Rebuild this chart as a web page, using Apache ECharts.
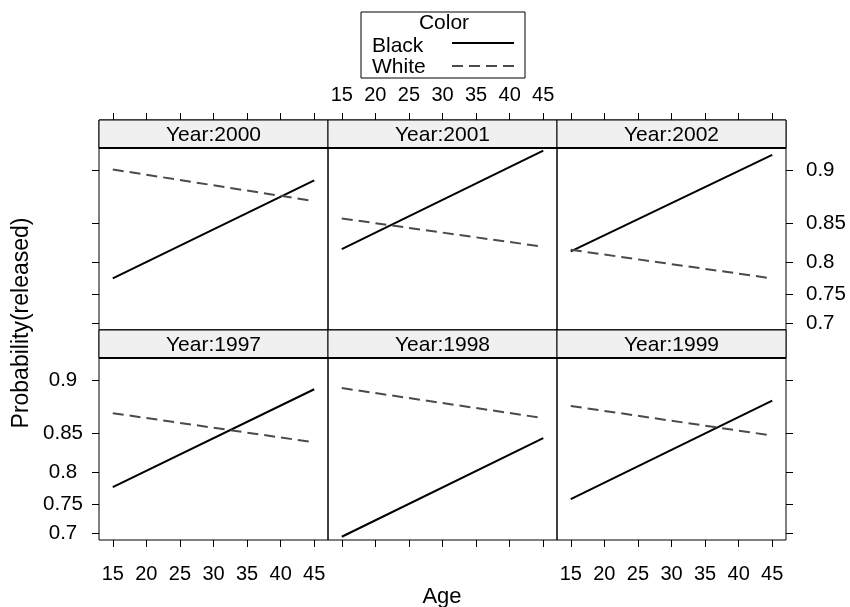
<!DOCTYPE html>
<html>
<head>
<meta charset="utf-8">
<script src="https://cdn.jsdelivr.net/npm/echarts@6/dist/echarts.min.js"></script>
<style>html,body{margin:0;padding:0;background:#fff;}#chart{width:850px;height:607px;}</style>
</head>
<body>
<div id="chart"></div>
<script>
// ---- data (probabilities, at ages 15 and 45) ----
const ages = [15, 45];
const xTicks = [15, 20, 25, 30, 35, 40, 45];
const yTicks = [0.7, 0.75, 0.8, 0.85, 0.9];
const panelYears = [2000, 2001, 2002, 1997, 1998, 1999];
const black2000 = [0.776, 0.892];
const white2000 = [0.901, 0.873];
const black2001 = [0.818, 0.915];
const white2001 = [0.855, 0.821];
const black2002 = [0.815, 0.912];
const white2002 = [0.817, 0.776];
const black1997 = [0.778, 0.893];
const white1997 = [0.871, 0.839];
const black1998 = [0.693, 0.844];
const white1998 = [0.894, 0.866];
const black1999 = [0.759, 0.883];
const white1999 = [0.878, 0.847];
const seriesNames = ['Black', 'White'];

const blackByYear = {2000: black2000, 2001: black2001, 2002: black2002, 1997: black1997, 1998: black1998, 1999: black1999};
const whiteByYear = {2000: white2000, 2001: white2001, 2002: white2002, 1997: white1997, 1998: white1998, 1999: white1999};

// ---- logit scale helpers ----
const logit = p => Math.log(p / (1 - p));
const FONT = '"Liberation Sans", Arial, Helvetica, sans-serif';

// ---- layout ----
const PANEL_LEFT = [99, 328, 557];
const PANEL_W = 229;
const ROW_TOP = [120, 330];
const PANEL_H = 210;   // strip + plot
const STRIP_H = 28;
const PX_PER_LOGIT = 112.8;
const Y_MIN = 0.7852;                       // logit at plot bottom
const Y_MAX = Y_MIN + PANEL_H / PX_PER_LOGIT; // includes strip area
const X_MIN = 12.95, X_MAX = 47.05;

const grids = [], xAxes = [], yAxes = [], series = [], graphics = [];
const yTickVals = yTicks.map(logit);
const fmtY = v => {
  let best = yTicks[0];
  yTicks.forEach(t => { if (Math.abs(logit(t) - v) < Math.abs(logit(best) - v)) best = t; });
  return String(best);
};

panelYears.forEach((year, i) => {
  const r = Math.floor(i / 3), c = i % 3;
  const left = PANEL_LEFT[c], top = ROW_TOP[r];
  grids.push({left: left, top: top, width: PANEL_W, height: PANEL_H, show: true,
    borderColor: '#000', borderWidth: 1, backgroundColor: 'transparent', containLabel: false, outerBoundsMode: 'none'});
  const showXLabel = (r === 0 && c === 1) || (r === 1 && c !== 1);
  xAxes.push({type: 'value', gridIndex: i, min: X_MIN, max: X_MAX,
    position: r === 0 ? 'top' : 'bottom',
    axisLine: {show: false, onZero: false},
    splitLine: {show: false},
    axisTick: {show: true, customValues: xTicks, length: 7, inside: false, lineStyle: {color: '#000', width: 1}},
    axisLabel: {show: showXLabel, customValues: xTicks, fontSize: 20, color: '#000', fontFamily: FONT,
      margin: r === 0 ? 15 : 24}
  });
  const hasY = c !== 1;
  const showYLabel = (r === 1 && c === 0) || (r === 0 && c === 2);
  yAxes.push({type: 'value', gridIndex: i, min: Y_MIN, max: Y_MAX,
    position: c === 2 ? 'right' : 'left',
    axisLine: {show: false, onZero: false},
    splitLine: {show: false},
    axisTick: {show: hasY, customValues: yTickVals, length: 7, inside: false, lineStyle: {color: '#000', width: 1}},
    axisLabel: {show: showYLabel, customValues: yTickVals, formatter: fmtY, fontSize: 20.5, color: '#000', fontFamily: FONT,
      align: c === 2 ? 'left' : 'center', margin: c === 2 ? 20 : 36}
  });
  const b = blackByYear[year], w = whiteByYear[year];
  series.push({type: 'line', name: seriesNames[0], xAxisIndex: i, yAxisIndex: i, showSymbol: false, symbol: 'none',
    data: ages.map((a, k) => [a, logit(b[k])]), lineStyle: {color: '#000', width: 2}, silent: true});
  series.push({type: 'line', name: seriesNames[1], xAxisIndex: i, yAxisIndex: i, showSymbol: false, symbol: 'none',
    data: ages.map((a, k) => [a, logit(w[k])]), lineStyle: {color: '#4a4a4a', width: 2, type: [11, 6]}, silent: true});
  // strip
  graphics.push({type: 'rect', shape: {x: left, y: top, width: PANEL_W, height: STRIP_H},
    style: {fill: '#f0f0f0', stroke: '#000', lineWidth: 1}, z: 10});
  graphics.push({type: 'line', shape: {x1: left, y1: top + STRIP_H, x2: left + PANEL_W, y2: top + STRIP_H},
    style: {stroke: '#000', lineWidth: 2}, z: 11});
  graphics.push({type: 'text', x: left + PANEL_W / 2, y: top + STRIP_H / 2 + 1,
    style: {text: 'Year:' + year, fill: '#000', font: '21px ' + FONT, align: 'center', verticalAlign: 'middle'}, z: 12});
});

// legend
graphics.push({type: 'rect', shape: {x: 361, y: 12, width: 164, height: 66}, style: {fill: '#fff', stroke: '#000', lineWidth: 1}, z: 10});
graphics.push({type: 'text', x: 444, y: 23, style: {text: 'Color', fill: '#000', font: '21px ' + FONT, align: 'center', verticalAlign: 'middle'}, z: 11});
graphics.push({type: 'text', x: 372, y: 46, style: {text: seriesNames[0], fill: '#000', font: '21px ' + FONT, align: 'left', verticalAlign: 'middle'}, z: 11});
graphics.push({type: 'text', x: 372, y: 67, style: {text: seriesNames[1], fill: '#000', font: '21px ' + FONT, align: 'left', verticalAlign: 'middle'}, z: 11});
graphics.push({type: 'line', shape: {x1: 452, y1: 43, x2: 514, y2: 43}, style: {stroke: '#000', lineWidth: 2}, z: 11});
graphics.push({type: 'line', shape: {x1: 452, y1: 66, x2: 514, y2: 66}, style: {stroke: '#4a4a4a', lineWidth: 2, lineDash: [11, 6]}, z: 11});
// axis titles
graphics.push({type: 'text', x: 442, y: 597, style: {text: 'Age', fill: '#000', font: '22px ' + FONT, align: 'center', verticalAlign: 'middle'}, z: 11});
graphics.push({type: 'text', x: 22, y: 323, rotation: Math.PI / 2,
  style: {text: 'Probability(released)', fill: '#000', font: '23px ' + FONT, align: 'center', verticalAlign: 'middle'}, z: 11});

const chart = echarts.init(document.getElementById('chart'), null, {renderer: 'canvas'});
chart.setOption({
  animation: false,
  backgroundColor: '#fff',
  grid: grids, xAxis: xAxes, yAxis: yAxes, series: series, graphic: graphics
});
</script>
</body>
</html>
